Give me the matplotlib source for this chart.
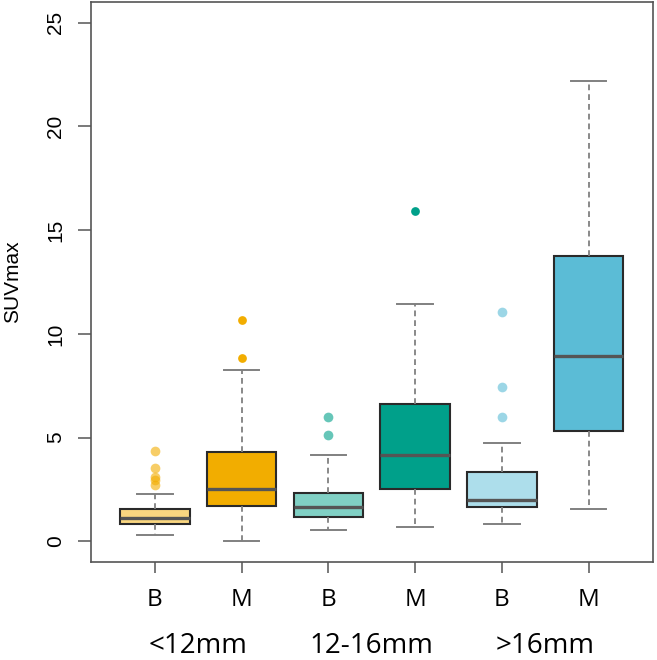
import matplotlib
matplotlib.use('Agg')
import matplotlib.pyplot as plt
import matplotlib.colors as mcolors

# summary stats
groups = ['<12mm', '12-16mm', '>16mm']
tick_labels = ['B', 'M', 'B', 'M', 'B', 'M']
q1 = [0.83, 1.68, 1.18, 2.51, 1.67, 5.31]
med = [1.13, 2.52, 1.64, 4.14, 1.98, 8.93]
q3 = [1.54, 4.32, 2.33, 6.62, 3.35, 13.77]
whislo = [0.29, 0.0, 0.52, 0.69, 0.83, 1.54]
whishi = [2.28, 8.24, 4.14, 11.45, 4.74, 22.2]
fliers = [
    [4.33, 3.53, 3.09, 2.93, 2.69],
    [10.65, 8.84],
    [6.0, 5.11],
    [15.9],
    [11.06, 7.46, 5.99],
    [],
]

base_colors = ['#F2AD00', '#F2AD00', '#00A08A', '#00A08A', '#5BBCD6', '#5BBCD6']
alphas = [0.5, 1.0, 0.5, 1.0, 0.5, 1.0]

plt.rcParams['font.family'] = ['Liberation Sans', 'DejaVu Sans']
label_font = ['Open Sans', 'DejaVu Sans']

fig = plt.figure(figsize=(6.57, 6.60), dpi=100)
ax = fig.add_axes([0.138, 0.1485, 0.8555, 0.8485])

stats = []
for i in range(len(q1)):
    stats.append({'med': med[i], 'q1': q1[i], 'q3': q3[i],
                  'whislo': whislo[i], 'whishi': whishi[i],
                  'fliers': fliers[i]})

pos = list(range(1, len(stats) + 1))
bp = ax.bxp(stats, positions=pos, widths=0.8, patch_artist=True,
            showfliers=True,
            boxprops=dict(edgecolor='#2a2a2a', linewidth=1.5),
            medianprops=dict(color='#555555', linewidth=2.4, solid_capstyle='butt'),
            whiskerprops=dict(color='#808080', linewidth=1.3, linestyle=(0, (3.2, 2.2))),
            capprops=dict(color='#808080', linewidth=1.4),
            capwidths=0.41)

for i, patch in enumerate(bp['boxes']):
    c = mcolors.to_rgb(base_colors[i])
    a = alphas[i]
    fill = tuple(a * cc + (1 - a) * 1.0 for cc in c)
    patch.set_facecolor(fill)
    fl = bp['fliers'][i]
    fl.set_marker('o')
    fl.set_markerfacecolor(base_colors[i])
    fl.set_markeredgecolor('none')
    fl.set_markersize(7 if alphas[i] < 1 else 6.3)
    fl.set_alpha(0.6 if alphas[i] < 1 else 1.0)

ax.set_xlim(0.26, 6.74)
ax.set_ylim(-1, 26)
ax.set_yticks([0, 5, 10, 15, 20, 25])
ax.set_yticklabels(['0', '5', '10', '15', '20', '25'], rotation=90, va='center',
                   fontsize=15)
ax.set_xticks(pos)
ax.set_xticklabels(tick_labels, fontsize=17.5, family=label_font)
ax.tick_params(axis='y', length=9.5, width=1.1, color='#555555', pad=9)
ax.tick_params(axis='x', length=8, width=1.1, color='#555555', pad=11)
for s in ax.spines.values():
    s.set_color('#555555')
    s.set_linewidth(1.2)

ax.set_ylabel('SUVmax', fontsize=15, labelpad=17)

for g, name in enumerate(groups):
    xc = 2 * g + 1.5
    ax.text(xc, -5.4, name, ha='center', va='baseline', fontsize=20,
            family=label_font, clip_on=False)

fig.savefig('out.png', dpi=100)
